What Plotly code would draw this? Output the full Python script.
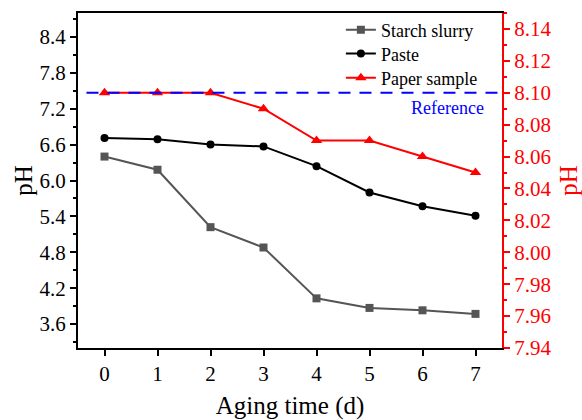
import plotly.graph_objects as go

days = [0, 1, 2, 3, 4, 5, 6, 7]
starch_slurry = [6.40, 6.18, 5.22, 4.88, 4.03, 3.87, 3.83, 3.77]
paste = [6.71, 6.69, 6.60, 6.57, 6.24, 5.80, 5.57, 5.41]
paper_sample = [8.10, 8.10, 8.10, 8.09, 8.07, 8.07, 8.06, 8.05]
reference_ph = 8.10

FONT = "Liberation Serif"

fig = go.Figure()
fig.add_trace(go.Scatter(x=days, y=starch_slurry, name="Starch slurry", mode="lines+markers",
                         legend="legend",
                         line=dict(color="#555555", width=2),
                         marker=dict(symbol="square", size=8, color="#555555")))
fig.add_trace(go.Scatter(x=days, y=paste, name="Paste", mode="lines+markers",
                         legend="legend2",
                         line=dict(color="black", width=2),
                         marker=dict(symbol="circle", size=8, color="black")))
fig.add_trace(go.Scatter(x=days, y=paper_sample, name="Paper sample", mode="lines+markers",
                         yaxis="y2", legend="legend3",
                         line=dict(color="#ff0000", width=2),
                         marker=dict(symbol="triangle-up", size=10, color="#ff0000")))

fig.add_shape(type="line", xref="paper", x0=0.02, x1=1, yref="y2", y0=reference_ph, y1=reference_ph,
              line=dict(color="#0000ff", width=2, dash="12px,9px"))
fig.add_annotation(text="Reference", xref="paper", x=0.962, xanchor="right",
                   yref="y2", y=reference_ph, yanchor="top", yshift=-3, showarrow=False,
                   font=dict(family=FONT, size=18, color="#0000ff"))

def leg(y):
    return dict(x=0.62, y=y, xanchor="left", yanchor="middle", bgcolor="rgba(0,0,0,0)",
                font=dict(family=FONT, size=18, color="black"), itemwidth=30)

fig.update_layout(
    width=582, height=420,
    margin=dict(l=78, r=80, t=13, b=72, autoexpand=False),
    paper_bgcolor="white", plot_bgcolor="white",
    font=dict(family=FONT, size=18, color="black"),
    showlegend=True,
    legend=leg(0.949),
    legend2=leg(0.878),
    legend3=leg(0.806),
    xaxis=dict(range=[-0.5, 7.5], tickmode="array", tickvals=days, ticktext=[str(d) for d in days],
               showgrid=False, zeroline=False, showline=True, linecolor="black", linewidth=2,
               ticks="outside", ticklen=6, tickwidth=2, tickcolor="black", mirror=True, automargin=False,
               title=dict(text="Aging time (d)", font=dict(family=FONT, size=25), standoff=20),
               tickfont=dict(family=FONT, size=21)),
    yaxis=dict(range=[3.2, 8.8], tick0=3.6, dtick=0.6, tickformat=".1f",
               showgrid=False, zeroline=False, showline=True, linecolor="black", linewidth=2,
               ticks="outside", ticklen=6, tickwidth=2, tickcolor="black", automargin=False,
               minor=dict(ticks="outside", ticklen=3, tickwidth=2, tickcolor="black", dtick=0.3, tick0=3.3),
               title=dict(text="pH", font=dict(family=FONT, size=25), standoff=0),
               tickfont=dict(family=FONT, size=21)),
    yaxis2=dict(range=[7.94, 8.15], tick0=7.94, dtick=0.02, tickformat=".2f", overlaying="y", side="right",
                showgrid=False, zeroline=False, showline=True, linecolor="#ff0000", linewidth=2,
                ticks="outside", ticklen=6, tickwidth=2, tickcolor="#ff0000", automargin=False,
                minor=dict(ticks="outside", ticklen=3, tickwidth=2, tickcolor="#ff0000", dtick=0.01, tick0=7.95),
                title=dict(text="pH", font=dict(family=FONT, size=25, color="#ff0000"), standoff=10),
                tickfont=dict(family=FONT, size=21, color="#ff0000")),
)

fig.write_html("out.html")
